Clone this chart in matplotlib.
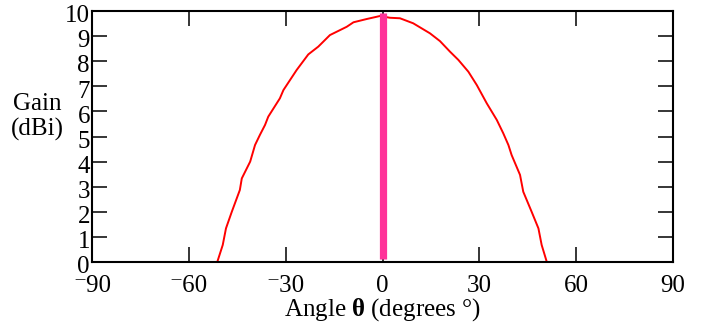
import matplotlib
matplotlib.use('Agg')
import matplotlib.pyplot as plt
from matplotlib.transforms import ScaledTranslation

plt.rcParams['font.family'] = ['Liberation Serif', 'DejaVu Serif']
plt.rcParams['mathtext.fontset'] = 'custom'
plt.rcParams['mathtext.rm'] = 'Liberation Serif'
plt.rcParams['mathtext.bf'] = 'Liberation Serif:bold'

# measured gain pattern (angle in degrees, gain in dBi)
angle = [-51.2, -49.5, -48.5, -46.7, -44.2, -43.6, -41.0, -39.5, -38.0, -36.4,
         -35.4, -31.8, -30.7, -26.6, -23.0, -19.9, -16.3, -11.1, -9.0, -4.9,
         -1.8, -0.8, 2.3, 5.4, 9.5, 14.7, 17.8, 20.9, 23.5, 26.6,
         29.2, 32.3, 35.4, 37.4, 39.0, 40.0, 42.6, 43.6, 46.2, 48.3,
         49.3, 50.9]
gain = [0.0, 0.68, 1.34, 2.0, 2.87, 3.33, 4.0, 4.66, 5.06, 5.46,
        5.79, 6.52, 6.85, 7.65, 8.27, 8.58, 9.04, 9.37, 9.55, 9.68,
        9.77, 9.80, 9.73, 9.71, 9.51, 9.11, 8.80, 8.38, 8.05, 7.58,
        7.05, 6.32, 5.66, 5.13, 4.66, 4.26, 3.47, 2.80, 2.0, 1.34,
        0.68, 0.0]

marker_angle = 0
marker_range = [0.12, 9.9]

xticks = [-90, -60, -30, 0, 30, 60, 90]
xticklabels = ['\u207b90', '\u207b60', '\u207b30', '0', '30', '60', '90']
yticks = list(range(0, 11))

fig = plt.figure(figsize=(7.15, 3.25), dpi=100)
ax = fig.add_axes([0.1287, 0.1938, 0.8126, 0.7724])

ax.plot(angle, gain, color='#ff0000', lw=1.4)
ax.plot([marker_angle, marker_angle], marker_range, color='#ff3399', lw=5.2,
        solid_capstyle='butt')

ax.set_xlim(-90, 90)
ax.set_ylim(0, 10)
ax.set_xticks(xticks)
ax.set_xticklabels(xticklabels)
ax.set_yticks(yticks)

ax.tick_params(direction='in', length=11, width=1.1, labelsize=18,
               top=True, right=True, color='black')
ax.tick_params(axis='y', pad=1.5)
ax.tick_params(axis='x', pad=9.5)
for s in ax.spines.values():
    s.set_linewidth(1.5)

# tick labels in the reference sit a little below their ticks
down = ScaledTranslation(0, -2 / 72, fig.dpi_scale_trans)
for lab in ax.get_yticklabels():
    lab.set_transform(lab.get_transform() + down)

ax.set_xlabel('Angle $\\mathbf{\\theta}$ (degrees \u00b0)', fontsize=18, labelpad=-0.5)
fig.text(0.052, 0.64, 'Gain\n(dBi)', fontsize=18, ha='center', va='center',
         linespacing=1.15)

fig.savefig('out.png', dpi=100)
